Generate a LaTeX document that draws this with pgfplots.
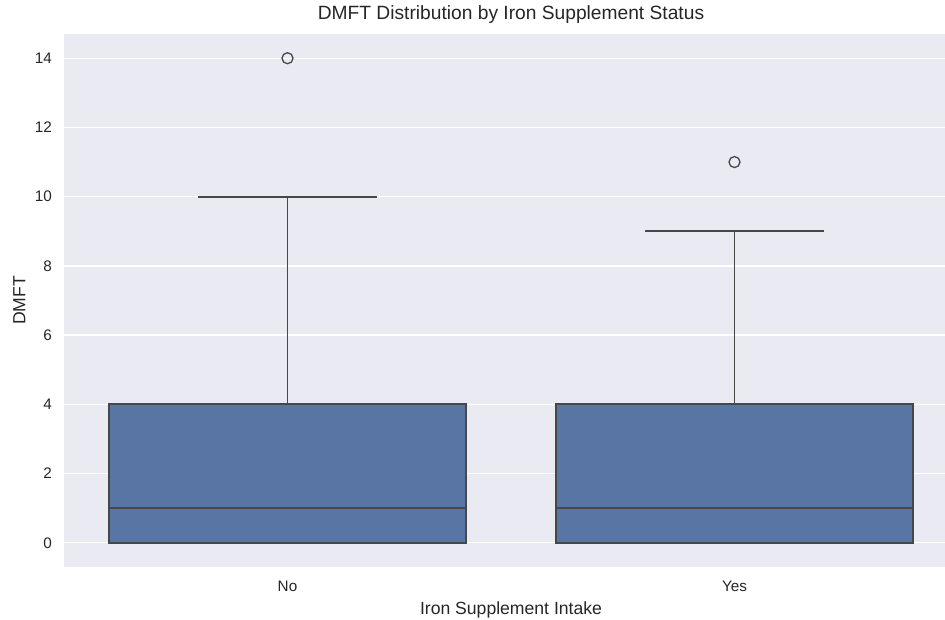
\documentclass[border=0pt]{standalone}
\usepackage{pgfplots}
\pgfplotsset{compat=1.18}
\usepgfplotslibrary{statistics}
\usepackage{fontspec}
\setmainfont{Liberation Sans}
\definecolor{bgc}{HTML}{EAEAF2}
\definecolor{boxc}{HTML}{5975A4}
\definecolor{linec}{HTML}{474747}
\definecolor{txtc}{HTML}{262626}
\begin{document}
\begin{tikzpicture}
\clip (-64pt,-52pt) rectangle (881pt,567pt);
\begin{axis}[
  scale only axis,
  width=894pt, height=533pt,
  xmin=-0.5, xmax=1.5,
  ymin=-0.7, ymax=14.7,
  axis background/.style={fill=bgc},
  axis line style={draw=none},
  major tick length=0pt,
  xtick={0,1}, xticklabels={No,Yes},
  ytick={0,2,4,6,8,10,12,14},
  ymajorgrids,
  grid style={white, line width=1.3pt},
  tick label style={font=\fontsize{15.28pt}{18pt}\selectfont, text=txtc},
  /pgf/number format/assume math mode=true,
  xticklabel style={anchor=base, inner sep=0pt, yshift=-24pt},
  yticklabel style={anchor=east, inner sep=0pt, xshift=-12pt},
  xlabel={Iron Supplement Intake},
  ylabel={DMFT},
  title={DMFT Distribution by Iron Supplement Status},
  label style={font=\fontsize{17.6pt}{21pt}\selectfont, text=txtc},
  xlabel style={at={(axis description cs:0.5,0)}, anchor=base, inner sep=0pt, yshift=-47pt},
  ylabel style={at={(axis description cs:0,0.5)}, anchor=base, inner sep=0pt, yshift=38.5pt},
  title style={at={(axis description cs:0.5,1)}, anchor=base, inner sep=0pt, yshift=8pt, font=\fontsize{19.2pt}{23pt}\selectfont, text=txtc},
  boxplot/draw direction=y,
  boxplot/box extend=0.8,
  boxplot/whisker extend=0.4,
  boxplot/every box/.style={fill=boxc, draw=linec, /tikz/line width=1.7pt},
  boxplot/every whisker/.style={draw=linec, /tikz/line width=1.9pt},
  boxplot/every median/.style={draw=linec, /tikz/line width=1.7pt},
  every axis plot/.append style={line width=1.7pt},
  clip=false,
]
\addplot[boxplot prepared={draw position=0, lower whisker=0, lower quartile=0, median=1, upper quartile=4, upper whisker=10},
  fill=boxc, draw=linec, line width=1.7pt,
  mark=o, mark size=5.5pt, mark options={draw=linec, fill=none, line width=1.3pt}]
  coordinates {(0,14)};
\addplot[boxplot prepared={draw position=1, lower whisker=0, lower quartile=0, median=1, upper quartile=4, upper whisker=9},
  fill=boxc, draw=linec, line width=1.7pt,
  mark=o, mark size=5.5pt, mark options={draw=linec, fill=none, line width=1.3pt}]
  coordinates {(1,11)};
\end{axis}
\end{tikzpicture}
\end{document}
